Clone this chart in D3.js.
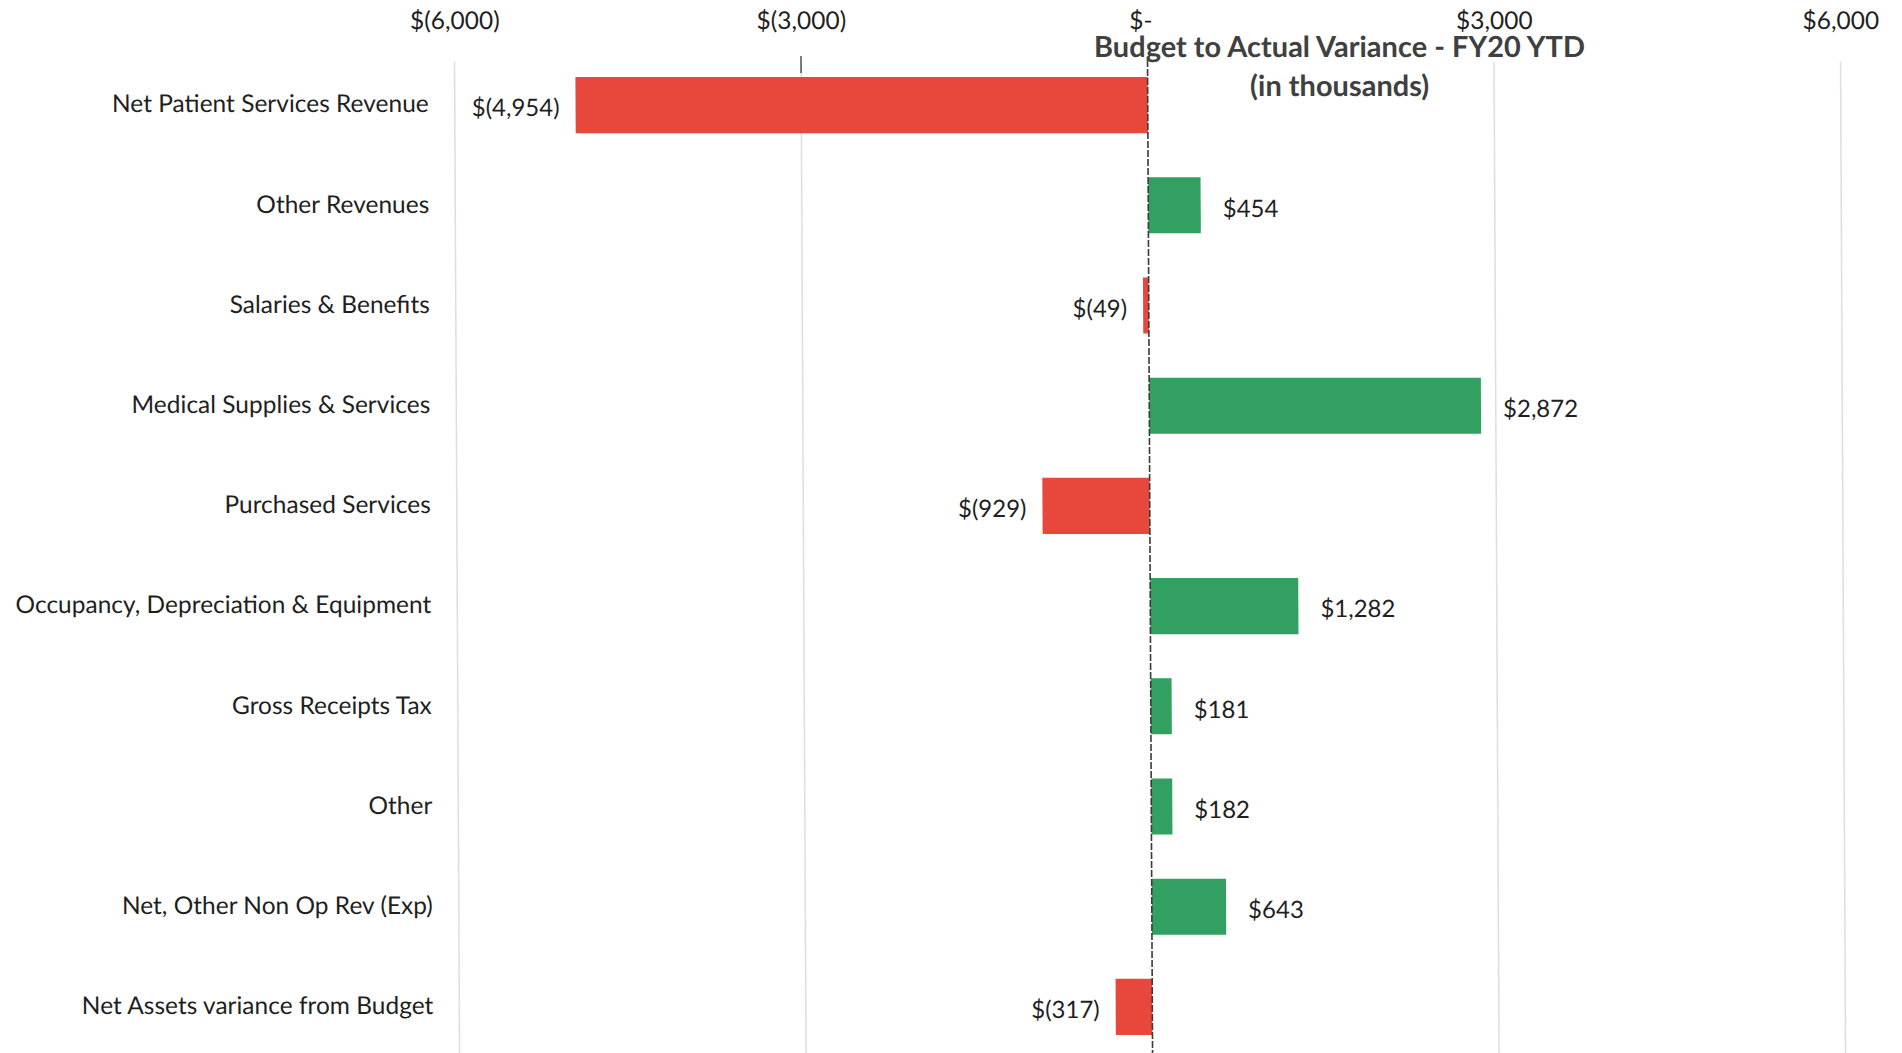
<!DOCTYPE html>
<html>
<head>
<meta charset="utf-8">
<script src="https://cdn.jsdelivr.net/npm/d3@7"></script>
<style>
  html, body { margin: 0; padding: 0; background: #ffffff; }
  svg { display: block; }
  text { font-family: Lato, "Open Sans", sans-serif; fill: #1f1f1f; }
</style>
</head>
<body>
<svg id="chart" width="1902" height="1053"></svg>
<script>
// Budget to actual variance by line item, in thousands of dollars
const categories = [
  "Net Patient Services Revenue",
  "Other Revenues",
  "Salaries & Benefits",
  "Medical Supplies & Services",
  "Purchased Services",
  "Occupancy, Depreciation & Equipment",
  "Gross Receipts Tax",
  "Other",
  "Net, Other Non Op Rev (Exp)",
  "Net Assets variance from Budget"
];
const variances = [-4954, 454, -49, 2872, -929, 1282, 181, 182, 643, -317];
const tickValues = [-6000, -3000, 0, 3000, 6000];
const titleLines = ["Budget to Actual Variance - FY20 YTD", "(in thousands)"];

const posColor = "#31a060";
const negColor = "#e8483b";

// Accounting style: $(1,234) for negatives, $- for zero
const num = d3.format(",");
const money = v => v === 0 ? "$-" : (v < 0 ? "$(" + num(-v) + ")" : "$" + num(v));

const svg = d3.select("#chart");
// slight shear of the whole sheet
const root = svg.append("g")
  .attr("transform", "translate(1150,550) skewX(0.29) translate(-1150,-550)");

const x = d3.scaleLinear().domain([-6000, 6000]).range([457, 1843]);
const y = d3.scaleBand().domain(categories).range([55, 1057])
  .paddingInner(0.44).paddingOuter(0.22);

const gridTop = 62, gridBottom = 1060;

// Vertical gridlines
root.append("g").selectAll("line")
  .data(tickValues.filter(d => d !== 0))
  .join("line")
  .attr("x1", d => x(d)).attr("x2", d => x(d))
  .attr("y1", gridTop).attr("y2", gridBottom)
  .attr("stroke", "#dedede").attr("stroke-width", 1.5);

// Small dark tick at the top of the -3000 line
root.append("line")
  .attr("x1", x(-3000)).attr("x2", x(-3000))
  .attr("y1", 56).attr("y2", 73)
  .attr("stroke", "#555").attr("stroke-width", 1.5);

// Axis tick labels along the top
const axis = d3.axisTop(x).tickValues(tickValues).tickSize(0).tickPadding(0)
  .tickFormat(money);
const axisG = root.append("g").attr("transform", "translate(0,29)").call(axis);
axisG.select(".domain").remove();
axisG.selectAll("text")
  .attr("font-size", 24.5)
  .attr("font-family", "Lato, 'Open Sans', sans-serif")
  .attr("fill", "#1f1f1f")
  .attr("dy", 0)
  .attr("dx", d => d === 0 ? -7 : 0);

// Bars
root.append("g").selectAll("rect")
  .data(categories)
  .join("rect")
  .attr("x", (d, i) => x(Math.min(0, variances[i])))
  .attr("width", (d, i) => Math.abs(x(variances[i]) - x(0)))
  .attr("y", d => y(d))
  .attr("height", y.bandwidth())
  .attr("fill", (d, i) => variances[i] < 0 ? negColor : posColor);

// Zero line
root.append("line")
  .attr("x1", x(0)).attr("x2", x(0))
  .attr("y1", 60).attr("y2", gridBottom)
  .attr("stroke", "#3a3a3a").attr("stroke-width", 1.6)
  .attr("stroke-dasharray", "7 2");

// Category labels
root.append("g").selectAll("text")
  .data(categories)
  .join("text")
  .attr("x", 431)
  .attr("y", d => y(d) + y.bandwidth() / 2)
  .attr("dy", "0.3em")
  .attr("text-anchor", "end")
  .attr("font-size", 24.5)
  .text(d => d);

// Value labels
root.append("g").selectAll("text")
  .data(categories)
  .join("text")
  .attr("x", (d, i) => variances[i] < 0 ? x(variances[i]) - 16 : x(variances[i]) + 22)
  .attr("y", d => y(d) + y.bandwidth() / 2 + 3)
  .attr("dy", "0.35em")
  .attr("text-anchor", (d, i) => variances[i] < 0 ? "end" : "start")
  .attr("font-size", 24)
  .text((d, i) => money(variances[i]));

// Title
root.append("g").selectAll("text")
  .data(titleLines)
  .join("text")
  .attr("x", 1342)
  .attr("y", (d, i) => 57 + i * 39)
  .attr("text-anchor", "middle")
  .attr("font-size", 29)
  .attr("font-weight", "bold")
  .style("fill", "#404040")
  .text(d => d);
</script>
</body>
</html>
